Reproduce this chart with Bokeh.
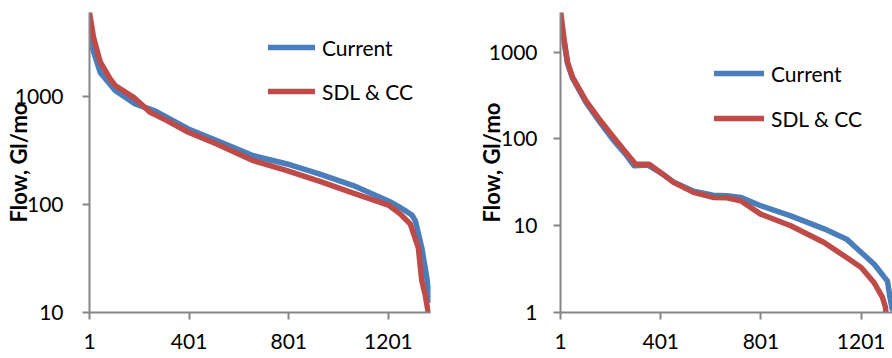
import math
from bokeh.plotting import figure
from bokeh.layouts import row
from bokeh.models import (Range1d, FixedTicker, CustomJSTickFormatter, Legend,
                          LegendItem)
from bokeh.embed import file_html
from bokeh.resources import INLINE

# ---------------- data ----------------
series_names = ["Current", "SDL & CC"]
y_title = "Flow, Gl/mo"
x_ticks = [1, 401, 801, 1201]
left_y_ticks = [10, 100, 1000]
right_y_ticks = [1, 10, 100, 1000]

# left panel (exceedance rank -> flow, Gl/mo)
left_current_rank = [1, 5, 20, 44, 104, 184, 264, 398, 512, 659, 794, 926,
                     1060, 1201, 1248, 1275, 1295, 1309, 1335, 1355, 1368]
left_current_flow = [4200, 3200, 2500, 1680, 1140, 857, 740, 502, 392, 284,
                     238, 192, 150, 108, 94, 86, 80, 71, 40, 21, 13]
left_sdl_rank = [1, 17, 44, 84, 104, 178, 245, 312, 398, 512, 659, 794, 926,
                 1060, 1201, 1248, 1289, 1321, 1335, 1348, 1361, 1368]
left_sdl_flow = [6000, 3560, 2100, 1460, 1270, 987, 716, 600, 468, 365, 255,
                 206, 164, 128, 99, 82, 66, 40, 19.7, 14.8, 10, 7]

# right panel
right_current_rank = [1, 15, 29, 49, 102, 155, 208, 262, 295, 350, 408, 452,
                      532, 610, 665, 720, 800, 920, 1053, 1143, 1186, 1253,
                      1306, 1316, 1325]
right_current_flow = [2600, 1350, 740, 500, 265, 160, 100, 66, 49, 50, 39.5,
                      32, 25, 22.5, 22.2, 21.2, 17, 13, 9.2, 7.0, 5.4, 3.6,
                      2.3, 1.49, 1.1]
right_sdl_rank = [1, 15, 29, 49, 102, 155, 208, 262, 301, 355, 408, 452, 532,
                  610, 665, 720, 800, 920, 1053, 1143, 1201, 1253, 1286,
                  1298, 1302]
right_sdl_flow = [3000, 1420, 765, 514, 277, 170, 109, 70, 51, 51, 39.5, 31.6,
                  24.2, 21.2, 21, 19.4, 13.6, 10, 6.4, 4.3, 3.3, 2.2, 1.49,
                  1.15, 0.8]

# ---------------- style ----------------
FONT = "Lato"
BLUE = "#4A7EBB"
RED = "#BE4B48"
AXIS = "#868686"


def make_panel(width, min_left, min_right, x_end, y_rng, y_ticks,
               cur_x, cur_y, sdl_x, sdl_y, legend_loc, glyph_w, spacing,
               y_standoff, title_standoff):
    p = figure(width=width, height=358,
               x_range=Range1d(1, x_end), y_range=Range1d(*y_rng),
               y_axis_type="log", output_backend="svg", toolbar_location=None,
               min_border_left=min_left, min_border_right=min_right,
               min_border_top=12, min_border_bottom=46)
    p.outline_line_color = None
    p.xgrid.visible = False
    p.ygrid.visible = False
    p.background_fill_color = "white"
    p.border_fill_color = "white"

    for ax in (p.xaxis[0], p.yaxis[0]):
        ax.axis_line_color = AXIS
        ax.axis_line_width = 2
        ax.major_tick_line_color = AXIS
        ax.major_tick_line_width = 2
        ax.major_tick_in = 0
        ax.major_tick_out = 7
        ax.minor_tick_line_color = None
        ax.major_label_text_font = FONT
        ax.major_label_text_font_size = "21px"
        ax.major_label_text_color = "black"

    p.xaxis[0].ticker = FixedTicker(ticks=x_ticks)
    p.xaxis[0].major_label_standoff = 14
    yax = p.yaxis[0]
    yax.ticker = FixedTicker(ticks=y_ticks)
    yax.formatter = CustomJSTickFormatter(code="return tick.toFixed(0)")
    yax.major_label_standoff = y_standoff
    yax.axis_label = y_title
    yax.axis_label_text_font = FONT
    yax.axis_label_text_font_style = "bold"
    yax.axis_label_text_font_size = "22px"
    yax.axis_label_text_color = "black"
    yax.axis_label_standoff = title_standoff

    r1 = p.line(cur_x, cur_y, line_width=5.5, color=BLUE,
                line_join="round", line_cap="round")
    r2 = p.line(sdl_x, sdl_y, line_width=5.5, color=RED,
                line_join="round", line_cap="round")

    legend = Legend(items=[LegendItem(label=series_names[0], renderers=[r1]),
                           LegendItem(label=series_names[1], renderers=[r2])],
                    location=legend_loc, orientation="vertical",
                    glyph_width=glyph_w, glyph_height=26, label_height=26,
                    spacing=spacing, padding=0, margin=0, label_standoff=7,
                    border_line_color=None, background_fill_alpha=0,
                    label_text_font=FONT, label_text_font_size="21px",
                    label_text_color="black")
    p.add_layout(legend)
    return p


p1 = make_panel(446, 89, 16, 1370, (10, 6030), left_y_ticks,
                left_current_rank, left_current_flow,
                left_sdl_rank, left_sdl_flow,
                (179, 208), 47, 18, 19, -20)
p2 = make_panel(446, 114, 0, 1326, (1, 2862), right_y_ticks,
                right_current_rank, right_current_flow,
                right_sdl_rank, right_sdl_flow,
                (154, 181), 50, 19, 16, -19)

layout = row(p1, p2)
open("out.html", "w").write(file_html(layout, INLINE))
